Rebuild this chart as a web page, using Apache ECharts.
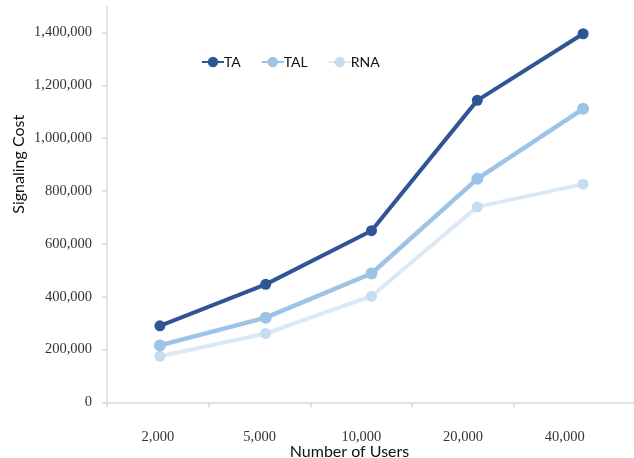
<!DOCTYPE html>
<html>
<head>
<meta charset="utf-8">
<script src="https://cdn.jsdelivr.net/npm/echarts@6/dist/echarts.min.js"></script>
<style>
  html, body { margin: 0; padding: 0; background: #ffffff; }
  #chart { width: 634px; height: 458px; }
</style>
</head>
<body>
<div id="chart"></div>
<script>
// Number of users on the horizontal axis
const categories = ['2,000', '5,000', '10,000', '20,000', '40,000'];

// Signaling cost per scheme
const taValues  = [290000, 447000, 650000, 1143000, 1395000];
const talValues = [216000, 321000, 488000, 846000, 1111000];
const rnaValues = [175000, 261000, 402000, 740000, 826000];

// Labelled values on the cost axis
const yTicks = [0, 200000, 400000, 600000, 800000, 1000000, 1200000, 1400000];

const serifFont = 'Liberation Serif';
const sansFont = 'Lato';
const axisGray = '#d9d9d9';

const chart = echarts.init(document.getElementById('chart'));

const tickSlots = categories.map((c, i) => i);
const labelSlots = categories.map((c, i) => i + 0.5);

chart.setOption({
  animation: false,
  backgroundColor: '#ffffff',
  grid: {
    left: 107, top: 6, width: 529, bottom: 55.5,
    containLabel: false,
    outerBoundsMode: 'none'
  },
  legend: {
    left: 196,
    top: 50,
    itemWidth: 22,
    itemHeight: 13,
    itemGap: 20,
    textStyle: { fontFamily: sansFont, fontSize: 14, color: '#111', padding: [0, 0, 0, -5] },
    data: ['TA', 'TAL', 'RNA']
  },
  xAxis: [
    {
      type: 'category',
      data: categories,
      boundaryGap: true,
      position: 'bottom',
      axisLine: { show: true, onZero: false, lineStyle: { color: axisGray, width: 1.5 } },
      axisTick: { show: false },
      axisLabel: { show: false },
      splitLine: { show: false }
    },
    {
      type: 'value',
      position: 'bottom',
      min: 0,
      max: 5.2,
      name: 'Number of Users',
      nameLocation: 'middle',
      nameGap: 41,
      nameMoveOverlap: false,
      nameTextStyle: { fontFamily: sansFont, fontSize: 16, color: '#111', padding: [0, 44, 0, 0] },
      axisLine: { show: false, onZero: false },
      axisTick: {
        show: true,
        length: 5,
        customValues: tickSlots,
        lineStyle: { color: axisGray, width: 1.5 }
      },
      axisLabel: {
        show: true,
        margin: 27,
        customValues: labelSlots,
        fontFamily: serifFont,
        fontSize: 14.5,
        color: '#333',
        formatter: v => categories[Math.floor(v)]
      },
      splitLine: { show: false }
    }
  ],
  yAxis: {
    type: 'value',
    min: 0,
    max: 1500000,
    interval: 100000,
    name: 'Signaling Cost',
    nameLocation: 'middle',
    nameRotate: 90,
    nameGap: 80,
    nameMoveOverlap: false,
    nameTextStyle: { fontFamily: sansFont, fontSize: 16, color: '#111', padding: [0, 0, 0, 80] },
    axisLine: { show: true, lineStyle: { color: axisGray, width: 1.5 } },
    axisTick: {
      show: true,
      length: 5,
      customValues: yTicks,
      lineStyle: { color: axisGray, width: 1.5 }
    },
    axisLabel: {
      margin: 15,
      customValues: yTicks,
      fontFamily: serifFont,
      fontSize: 14.5,
      color: '#333',
      formatter: v => v.toLocaleString('en-US')
    },
    splitLine: { show: false }
  },
  series: [
    {
      name: 'RNA',
      type: 'line',
      data: rnaValues,
      symbol: 'circle',
      symbolSize: 11,
      z: 2,
      lineStyle: { color: '#dce8f5', width: 4 },
      itemStyle: { color: '#c6dcf1' }
    },
    {
      name: 'TAL',
      type: 'line',
      data: talValues,
      symbol: 'circle',
      symbolSize: 12,
      z: 3,
      lineStyle: { color: '#9dc3e6', width: 4.5 },
      itemStyle: { color: '#9dc3e6' }
    },
    {
      name: 'TA',
      type: 'line',
      data: taValues,
      symbol: 'circle',
      symbolSize: 11,
      z: 4,
      lineStyle: { color: '#2f5597', width: 4 },
      itemStyle: { color: '#2f5597' }
    }
  ]
});
</script>
</body>
</html>
